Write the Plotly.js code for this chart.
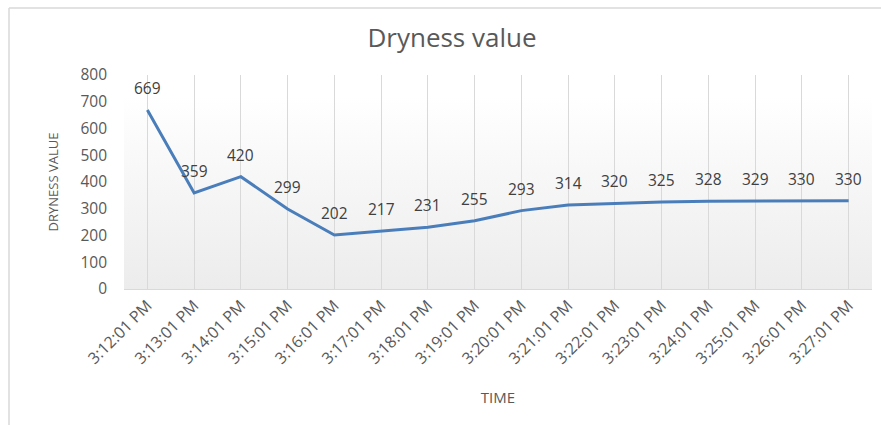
<!DOCTYPE html>
<html>
<head>
<meta charset="utf-8">
<script src="https://cdn.plot.ly/plotly-3.0.1.min.js"></script>
<style>
html,body{margin:0;padding:0;background:#fff;}
#chart{width:881px;height:425px;}
</style>
</head>
<body>
<div id="chart"></div>
<script>
const times = ["3:12:01 PM","3:13:01 PM","3:14:01 PM","3:15:01 PM","3:16:01 PM","3:17:01 PM","3:18:01 PM","3:19:01 PM","3:20:01 PM","3:21:01 PM","3:22:01 PM","3:23:01 PM","3:24:01 PM","3:25:01 PM","3:26:01 PM","3:27:01 PM"];
const dryness = [669,359,420,299,202,217,231,255,293,314,320,325,328,329,330,330];
const yTicks = [0,100,200,300,400,500,600,700,800];

const W = 881, H = 425;
const M = {l:124, r:9, t:75, b:136};
const pw = W - M.l - M.r, ph = H - M.t - M.b;
const px = v => (v - M.l) / pw;
const py = v => (H - M.b - v) / ph;

const grad = 'data:image/svg+xml;utf8,' + encodeURIComponent(
 '<svg xmlns="http://www.w3.org/2000/svg" width="100" height="100" preserveAspectRatio="none">' +
 '<defs><linearGradient id="g" x1="0" y1="0" x2="0" y2="1">' +
 '<stop offset="0" stop-color="#ffffff"/><stop offset="0.1" stop-color="#ffffff"/><stop offset="1" stop-color="#ececec"/></linearGradient></defs>' +
 '<rect width="100" height="100" fill="url(#g)"/></svg>');

const trace = {
  x: times, y: dryness, type: 'scatter', mode: 'lines',
  line: {color: '#4a7ebb', width: 3},
  hoverinfo: 'x+y'
};

const labelFont = {family: 'Open Sans, sans-serif', size: 15.5, color: '#404040'};
const dataLabels = times.map((t, i) => ({
  x: t, y: dryness[i], xref: 'x', yref: 'y', text: String(dryness[i]),
  showarrow: false, yshift: 22, font: labelFont
}));

const layout = {
  width: W, height: H,
  margin: M,
  paper_bgcolor: '#ffffff', plot_bgcolor: 'rgba(0,0,0,0)',
  showlegend: false,
  title: {text: 'Dryness value', x: 452/W, xref: 'container', xanchor: 'center', y: 1 - 38/H, yref: 'container', yanchor: 'middle',
          font: {family: 'Open Sans, sans-serif', size: 26, color: '#595959'}},
  xaxis: {
    type: 'category', range: [-0.5, times.length - 0.5],
    showgrid: true, gridcolor: '#d9d9d9', gridwidth: 1,
    showline: true, linecolor: '#d9d9d9', linewidth: 1,
    tickangle: -45, ticks: '',
    tickfont: {family: 'Open Sans, sans-serif', size: 16, color: '#595959'},
    title: {text: 'TIME', standoff: 24, font: {family: 'Open Sans, sans-serif', size: 15, color: '#595959'}},
    zeroline: false, fixedrange: true
  },
  yaxis: {
    range: [0, 800], tickvals: yTicks, ticktext: yTicks.map(String),
    showgrid: false, zeroline: false, showline: false, ticks: '',
    ticklabelstandoff: 16,
    tickfont: {family: 'Open Sans, sans-serif', size: 15.5, color: '#595959'},
    title: {text: 'DRYNESS VALUE', standoff: 18, font: {family: 'Open Sans, sans-serif', size: 13, color: '#595959'}},
    fixedrange: true
  },
  annotations: dataLabels,
  images: [{source: grad, xref: 'paper', yref: 'paper', x: 0, y: 1, sizex: 1, sizey: 1,
            sizing: 'stretch', xanchor: 'left', yanchor: 'top', layer: 'below'}],
  shapes: [
    {type: 'line', xref: 'paper', yref: 'paper', x0: px(9), x1: px(W + 5), y0: py(8), y1: py(8),
     line: {color: '#d9d9d9', width: 1.5}},
    {type: 'line', xref: 'paper', yref: 'paper', x0: px(9), x1: px(9), y0: py(8), y1: py(H + 5),
     line: {color: '#d9d9d9', width: 1.5}}
  ]
};

Plotly.newPlot('chart', [trace], layout, {displayModeBar: false, staticPlot: true});
</script>
</body>
</html>
